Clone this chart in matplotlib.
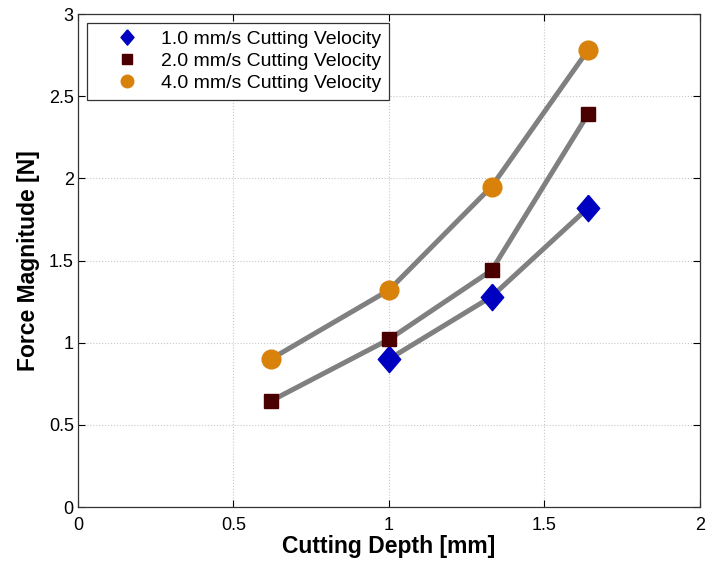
import matplotlib.pyplot as plt
from matplotlib.lines import Line2D

plt.rcParams['font.family'] = ['Liberation Sans', 'DejaVu Sans']

depth = [0.62, 1.0, 1.33, 1.64]
force_1mm = [0.90, 1.28, 1.82]   # starts at depth 1.0
force_2mm = [0.645, 1.02, 1.44, 2.39]
force_4mm = [0.90, 1.32, 1.95, 2.78]
labels = ["1.0 mm/s Cutting Velocity", "2.0 mm/s Cutting Velocity", "4.0 mm/s Cutting Velocity"]

blue = "#0000C0"
maroon = "#4A0000"
orange = "#D8820C"
gray = "#808080"
diamond = [(0, 1), (0.85, 0), (0, -1), (-0.85, 0), (0, 1)]

fig = plt.figure(figsize=(7.07, 5.67), dpi=100)
ax = fig.add_axes([0.1103, 0.1058, 0.8797, 0.8695])

# gray connecting lines first, markers on top
ax.plot(depth[1:], force_1mm, color=gray, lw=3.6, zorder=2)
ax.plot(depth, force_2mm, color=gray, lw=3.6, zorder=2)
ax.plot(depth, force_4mm, color=gray, lw=3.6, zorder=2)

ax.plot(depth[1:], force_1mm, ls='none', marker=diamond, ms=19, color=blue, mec=blue, zorder=3)
ax.plot(depth, force_2mm, ls='none', marker='s', ms=10.5, color=maroon, mec=maroon, zorder=3)
ax.plot(depth, force_4mm, ls='none', marker='o', ms=13.5, color=orange, mec=orange, zorder=3)

ax.set_xlim(0, 2)
ax.set_ylim(0, 3)
ax.set_xticks([0, 0.5, 1, 1.5, 2])
ax.set_xticklabels(["0", "0.5", "1", "1.5", "2"])
ax.set_yticks([0, 0.5, 1, 1.5, 2, 2.5, 3])
ax.set_yticklabels(["0", "0.5", "1", "1.5", "2", "2.5", "3"])
ax.tick_params(direction='in', top=True, right=True, labelsize=13, length=5, width=0.8, pad=3)
ax.tick_params(axis='x', pad=7)
ax.grid(True, ls=':', color='#c8c8c8', lw=0.8)
for s in ax.spines.values():
    s.set_linewidth(0.9)
    s.set_color('#333333')

ax.set_xlabel("Cutting Depth [mm]", fontsize=16.5, fontweight='bold', labelpad=1)
ax.set_ylabel("Force Magnitude [N]", fontsize=16.5, fontweight='bold', labelpad=6)

handles = [
    Line2D([], [], ls='none', marker=diamond, ms=11, color=blue),
    Line2D([], [], ls='none', marker='s', ms=7, color=maroon),
    Line2D([], [], ls='none', marker='o', ms=9, color=orange),
]
leg = ax.legend(handles, labels, loc='upper left', bbox_to_anchor=(0.0145, 0.982),
                borderaxespad=0, fancybox=False, framealpha=1, edgecolor='#333333',
                fontsize=14, handlelength=3.3, handletextpad=0.1, labelspacing=0.22,
                borderpad=0.4)
leg.get_frame().set_linewidth(0.9)

fig.savefig("out.png", dpi=100)
